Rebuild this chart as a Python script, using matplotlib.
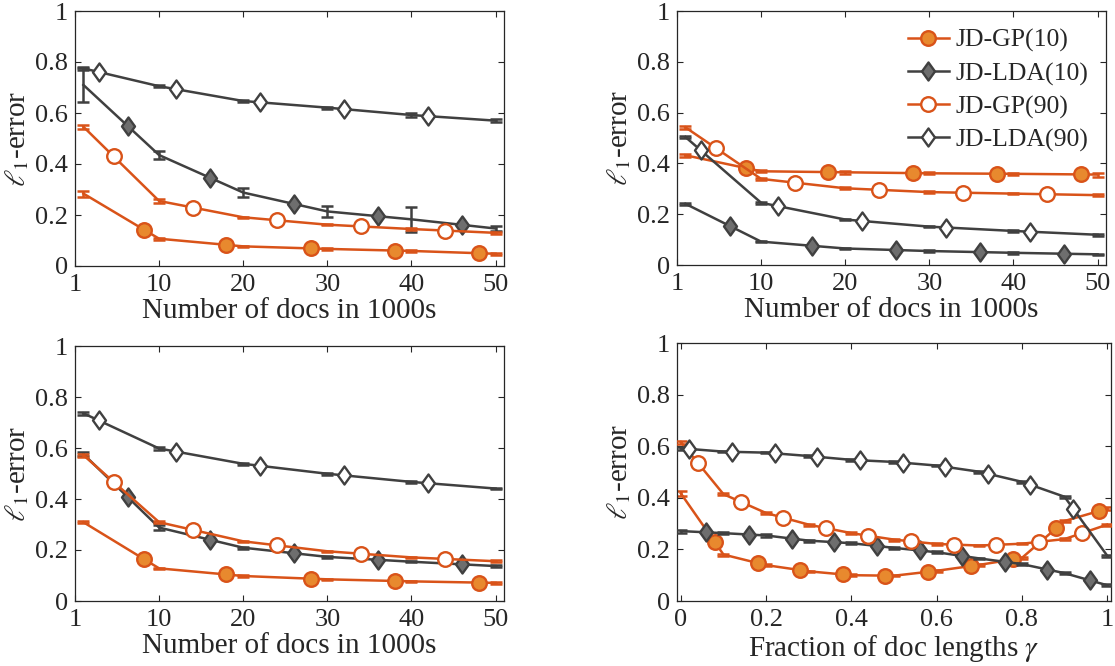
import numpy as np
import matplotlib
matplotlib.use('Agg')
import matplotlib.pyplot as plt
from matplotlib.path import Path
from matplotlib.lines import Line2D

plt.rcParams['font.family'] = ['Liberation Serif', 'DejaVu Serif']
plt.rcParams['mathtext.fontset'] = 'stix'

# ---------------- data ----------------
docs_x = [1, 10, 20, 30, 40, 50]
docs_ticks = [0, 10, 20, 30, 40, 50]
docs_ticklabels = ['1', '10', '20', '30', '40', '50']
gamma_x = [0.0, 0.1, 0.2, 0.3, 0.4, 0.5, 0.6, 0.7, 0.8, 0.9, 1.0]
gamma_ticks = [0, 0.2, 0.4, 0.6, 0.8, 1.0]
gamma_ticklabels = ['0', '0.2', '0.4', '0.6', '0.8', '1']
y_ticks = [0, 0.2, 0.4, 0.6, 0.8, 1.0]
y_ticklabels = ['0', '0.2', '0.4', '0.6', '0.8', '1']
labels = ['JD-GP(10)', 'JD-LDA(10)', 'JD-GP(90)', 'JD-LDA(90)']

# panel 1 (top left)
p1_gp10 = [0.284, 0.107, 0.077, 0.067, 0.059, 0.048]
p1_gp10_err = [0.012, 0.004, 0.003, 0.003, 0.003, 0.003]
p1_lda10 = [0.710, 0.435, 0.288, 0.214, 0.183, 0.147]
p1_lda10_err = [0.065, 0.016, 0.016, 0.020, 0.050, 0.008]
p1_gp90 = [0.546, 0.255, 0.191, 0.162, 0.145, 0.130]
p1_gp90_err = [0.007, 0.007, 0.003, 0.003, 0.003, 0.003]
p1_lda90 = [0.775, 0.705, 0.647, 0.621, 0.592, 0.570]
p1_lda90_err = [0.006, 0.004, 0.004, 0.004, 0.008, 0.006]

# panel 2 (top right)
p2_gp10 = [0.432, 0.369, 0.365, 0.361, 0.359, 0.356]
p2_gp10_err = [0.005, 0.004, 0.005, 0.004, 0.004, 0.008]
p2_lda10 = [0.241, 0.092, 0.065, 0.055, 0.048, 0.042]
p2_lda10_err = [0.004, 0.003, 0.003, 0.003, 0.003, 0.003]
p2_gp90 = [0.542, 0.339, 0.302, 0.287, 0.281, 0.275]
p2_gp90_err = [0.005, 0.004, 0.004, 0.003, 0.003, 0.003]
p2_lda90 = [0.504, 0.245, 0.179, 0.151, 0.134, 0.119]
p2_lda90_err = [0.005, 0.004, 0.003, 0.003, 0.003, 0.003]

# panel 3 (bottom left)
p3_gp10 = [0.309, 0.128, 0.098, 0.085, 0.077, 0.071]
p3_gp10_err = [0.004, 0.003, 0.003, 0.003, 0.003, 0.003]
p3_lda10 = [0.576, 0.288, 0.209, 0.173, 0.154, 0.137]
p3_lda10_err = [0.008, 0.010, 0.004, 0.003, 0.003, 0.004]
p3_gp90 = [0.572, 0.309, 0.234, 0.195, 0.171, 0.156]
p3_gp90_err = [0.006, 0.004, 0.003, 0.003, 0.003, 0.003]
p3_lda90 = [0.736, 0.598, 0.538, 0.499, 0.467, 0.441]
p3_lda90_err = [0.005, 0.004, 0.004, 0.004, 0.003, 0.003]

# panel 4 (bottom right)
p4_gp10 = [0.417, 0.180, 0.139, 0.115, 0.100, 0.098, 0.117, 0.140, 0.167, 0.310, 0.358]
p4_gp10_err = [0.010, 0.004, 0.004, 0.003, 0.003, 0.003, 0.003, 0.003, 0.004, 0.004, 0.005]
p4_lda10 = [0.271, 0.263, 0.254, 0.234, 0.224, 0.206, 0.189, 0.165, 0.143, 0.108, 0.061]
p4_lda10_err = [0.006, 0.004, 0.004, 0.004, 0.004, 0.003, 0.003, 0.003, 0.003, 0.003, 0.003]
p4_gp90 = [0.616, 0.414, 0.341, 0.296, 0.263, 0.238, 0.221, 0.215, 0.222, 0.240, 0.296]
p4_gp90_err = [0.006, 0.005, 0.004, 0.004, 0.004, 0.004, 0.003, 0.003, 0.003, 0.004, 0.004]
p4_lda90 = [0.592, 0.579, 0.575, 0.562, 0.547, 0.539, 0.525, 0.501, 0.462, 0.404, 0.176]
p4_lda90_err = [0.006, 0.003, 0.003, 0.003, 0.003, 0.003, 0.003, 0.003, 0.003, 0.004, 0.004]

# marker positions along the lines
docs_mk_gp10 = [8.2, 18, 28, 38, 48]
docs_mk_lda10 = [6.3, 16, 26, 36, 46]
docs_mk_gp90 = [4.6, 14, 24, 34, 44]
docs_mk_lda90 = [2.8, 12, 22, 32, 42]
gamma_mk_gp10 = [0.08, 0.18, 0.28, 0.38, 0.48, 0.58, 0.68, 0.78, 0.88, 0.98]
gamma_mk_lda10 = [0.06, 0.16, 0.26, 0.36, 0.46, 0.56, 0.66, 0.76, 0.86, 0.96]
gamma_mk_gp90 = [0.04, 0.14, 0.24, 0.34, 0.44, 0.54, 0.64, 0.74, 0.84, 0.94]
gamma_mk_lda90 = [0.02, 0.12, 0.22, 0.32, 0.42, 0.52, 0.62, 0.72, 0.82, 0.92]

# ---------------- style ----------------
ORANGE = '#D95319'
ORANGE_FILL = '#E8892E'
GRAY = '#404040'
GRAY_FILL = '#6E6E6E'
AX_COL = '#262626'
diamond = Path([(0, 1), (0.72, 0), (0, -1), (-0.72, 0), (0, 1)],
               [Path.MOVETO, Path.LINETO, Path.LINETO, Path.LINETO, Path.CLOSEPOLY])

styles = [
    dict(color=ORANGE, marker='o', face=ORANGE_FILL, ms=10.5),
    dict(color=GRAY, marker=diamond, face=GRAY_FILL, ms=13),
    dict(color=ORANGE, marker='o', face='white', ms=10.5),
    dict(color=GRAY, marker=diamond, face='white', ms=13),
]

W, H = 1115, 666
fig = plt.figure(figsize=(W / 100, H / 100), dpi=100)


def make_ax(l, r, t, b):
    return fig.add_axes([l / W, 1 - b / H, (r - l) / W, (b - t) / H])


def draw(ax, x, y, err, mx, st, z):
    ax.errorbar(x, y, yerr=err, color=st['color'], lw=1.8, elinewidth=1.8,
                capsize=4, capthick=1.8, zorder=z)
    ax.plot(mx, np.interp(mx, x, y), ls='none', marker=st['marker'],
            mfc=st['face'], mec=st['color'], ms=st['ms'], mew=1.7, zorder=z + 0.5)


def setup(ax, xlim, xt, xtl, xlabel):
    ax.set_xlim(*xlim)
    ax.set_ylim(0, 1)
    ax.set_xticks(xt)
    ax.set_xticklabels(xtl)
    ax.set_yticks(y_ticks)
    ax.set_yticklabels(y_ticklabels)
    ax.tick_params(direction='in', top=True, right=True, length=4, width=0.8,
                   color=AX_COL, labelcolor=AX_COL, labelsize=19)
    ax.tick_params(axis='x', pad=6)
    ax.tick_params(axis='y', pad=5)
    for s in ax.spines.values():
        s.set_color(AX_COL)
        s.set_linewidth(0.9)
    ax.set_xlabel(xlabel, fontsize=21, color=AX_COL, labelpad=1)
    ax.set_ylabel(r'$\ell_1$-error', fontsize=21, color=AX_COL, labelpad=3)


docs_label = 'Number of docs in 1000s'
panels = [
    (make_ax(75, 504, 11, 266),
     [(p1_gp10, p1_gp10_err), (p1_lda10, p1_lda10_err), (p1_gp90, p1_gp90_err), (p1_lda90, p1_lda90_err)]),
    (make_ax(677, 1106, 11, 265),
     [(p2_gp10, p2_gp10_err), (p2_lda10, p2_lda10_err), (p2_gp90, p2_gp90_err), (p2_lda90, p2_lda90_err)]),
    (make_ax(75, 504, 346, 601),
     [(p3_gp10, p3_gp10_err), (p3_lda10, p3_lda10_err), (p3_gp90, p3_gp90_err), (p3_lda90, p3_lda90_err)]),
]
docs_mk = [docs_mk_gp10, docs_mk_lda10, docs_mk_gp90, docs_mk_lda90]

for ax, series in panels:
    for i, (y, e) in enumerate(series):
        draw(ax, docs_x, y, e, docs_mk[i], styles[i], 2 + i)
    setup(ax, (0, 51), docs_ticks, docs_ticklabels, docs_label)

ax4 = make_ax(677, 1111, 343, 601)
gamma_series = [(p4_gp10, p4_gp10_err), (p4_lda10, p4_lda10_err), (p4_gp90, p4_gp90_err), (p4_lda90, p4_lda90_err)]
gamma_mk = [gamma_mk_gp10, gamma_mk_lda10, gamma_mk_gp90, gamma_mk_lda90]
for i, (y, e) in enumerate(gamma_series):
    draw(ax4, gamma_x, y, e, gamma_mk[i], styles[i], 2 + i)
setup(ax4, (-0.009, 1.009), gamma_ticks, gamma_ticklabels, r'Fraction of doc lengths $\gamma$')

# legend in top-right panel
handles = [Line2D([], [], color=st['color'], lw=1.8, marker=st['marker'], mfc=st['face'],
                  mec=st['color'], ms=st['ms'], mew=1.7) for st in styles]
leg = panels[1][0].legend(handles, labels, loc='upper right', frameon=False, fontsize=18.5,
                          handlelength=1.6, handletextpad=0.25, labelspacing=0.38,
                          borderaxespad=0.3)
for t in leg.get_texts():
    t.set_color(AX_COL)

fig.savefig('out.png', dpi=100)
